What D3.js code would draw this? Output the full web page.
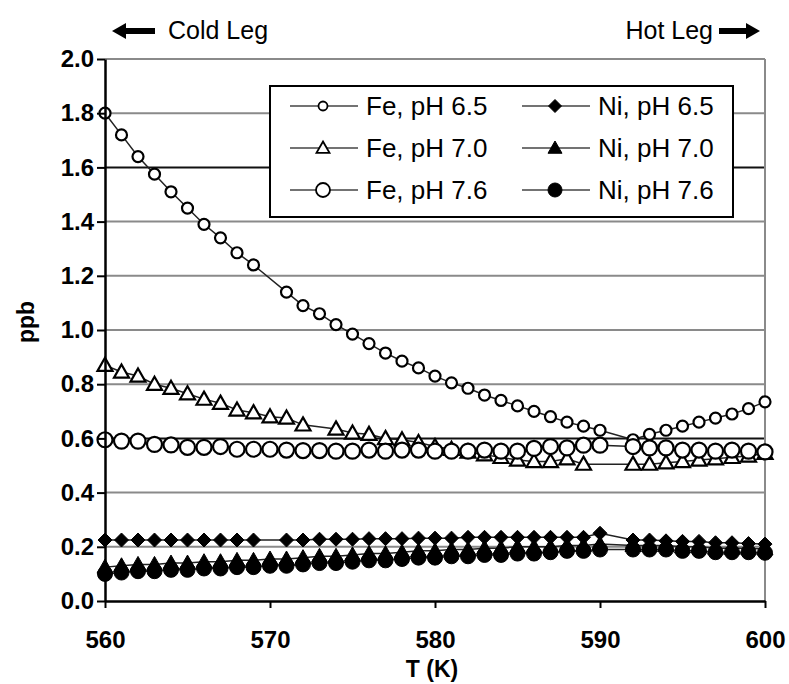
<!DOCTYPE html>
<html>
<head>
<meta charset="utf-8">
<script src="https://cdn.jsdelivr.net/npm/d3@7"></script>
<style>
  body { margin: 0; background: #fff; }
  text { font-family: "Liberation Sans", Arial, sans-serif; }
</style>
</head>
<body>
<div id="chart"></div>
<script>
// temperatures (K)
const temps = [560, 561, 562, 563, 564, 565, 566, 567, 568, 569, 570,
  571, 572, 573, 574, 575, 576, 577, 578, 579, 580,
  581, 582, 583, 584, 585, 586, 587, 588, 589, 590,
  591, 592, 593, 594, 595, 596, 597, 598, 599, 600];

// concentrations (ppb), null = no point
const fePH65 = [1.80, 1.72, 1.64, 1.575, 1.51, 1.45, 1.39, 1.34, 1.285, 1.24, null,
  1.14, 1.09, 1.06, 1.02, 0.985, 0.95, 0.915, 0.885, 0.86, 0.83,
  0.805, 0.785, 0.76, 0.74, 0.72, 0.70, 0.68, 0.66, 0.645, 0.63,
  null, 0.595, 0.615, 0.63, 0.645, 0.66, 0.675, 0.69, 0.71, 0.735];
const fePH70 = [0.87, 0.845, 0.83, 0.80, 0.785, 0.765, 0.745, 0.73, 0.705, 0.695, 0.68,
  0.675, 0.65, null, 0.635, 0.62, 0.615, 0.60, 0.595, 0.585, 0.57,
  0.56, 0.55, 0.54, 0.53, 0.52, 0.515, 0.515, 0.525, 0.505, null,
  null, 0.505, 0.505, 0.51, 0.515, 0.52, 0.525, 0.53, 0.535, 0.545];
const fePH76 = [0.595, 0.59, 0.59, 0.578, 0.576, 0.567, 0.567, 0.57, 0.56, 0.56, 0.56,
  0.557, 0.555, 0.555, 0.553, 0.553, 0.557, 0.553, 0.557, 0.557, 0.553,
  0.553, 0.553, 0.557, 0.553, 0.553, 0.563, 0.57, 0.565, 0.575, 0.575,
  null, 0.57, 0.565, 0.565, 0.557, 0.557, 0.553, 0.557, 0.553, 0.55];
const niPH65 = [0.225, 0.225, 0.225, 0.225, 0.225, 0.225, 0.225, 0.225, 0.225, 0.225, null,
  0.225, 0.225, 0.228, 0.228, 0.228, 0.23, 0.23, 0.23, 0.232, 0.232,
  0.232, 0.235, 0.235, 0.235, 0.235, 0.235, 0.235, 0.235, 0.235, 0.25,
  null, 0.225, 0.225, 0.222, 0.22, 0.22, 0.215, 0.215, 0.212, 0.21];
const niPH70 = [0.125, 0.13, 0.135, 0.135, 0.14, 0.14, 0.145, 0.145, 0.15, 0.15, 0.155,
  0.155, 0.16, 0.165, 0.165, 0.17, 0.175, 0.175, 0.18, 0.185, 0.185,
  0.19, 0.19, 0.195, 0.195, 0.2, 0.2, 0.2, 0.205, 0.205, 0.21,
  null, 0.205, 0.205, 0.205, 0.2, 0.2, 0.195, 0.195, 0.195, 0.192];
const niPH76 = [0.10, 0.105, 0.11, 0.11, 0.115, 0.115, 0.12, 0.12, 0.125, 0.125, 0.13,
  0.13, 0.135, 0.14, 0.14, 0.145, 0.15, 0.15, 0.155, 0.16, 0.16,
  0.165, 0.165, 0.17, 0.17, 0.175, 0.175, 0.18, 0.185, 0.185, 0.19,
  null, 0.19, 0.19, 0.19, 0.185, 0.185, 0.18, 0.18, 0.18, 0.178];

const seriesNames = ["Fe, pH 6.5", "Fe, pH 7.0", "Fe, pH 7.6", "Ni, pH 6.5", "Ni, pH 7.0", "Ni, pH 7.6"];
const xTicks = [560, 570, 580, 590, 600];
const yTicks = [0, 0.2, 0.4, 0.6, 0.8, 1.0, 1.2, 1.4, 1.6, 1.8, 2.0];

const series = [
  { name: seriesNames[0], values: fePH65, shape: "circle", r: 5.5, fill: "#fff", legendR: 4.5 },
  { name: seriesNames[1], values: fePH70, shape: "triangle", r: 7.5, fill: "#fff", legendR: 6.5 },
  { name: seriesNames[2], values: fePH76, shape: "circle", r: 7.5, fill: "#fff", legendR: 7 },
  { name: seriesNames[3], values: niPH65, shape: "diamond", r: 7, fill: "#000", legendR: 6.5 },
  { name: seriesNames[4], values: niPH70, shape: "triangle", r: 8, fill: "#000", legendR: 7 },
  { name: seriesNames[5], values: niPH76, shape: "circle", r: 7.5, fill: "#000", legendR: 7 }
];

const width = 789;
const height = 684;
const marginTop = 59;
const marginRight = 24;
const marginBottom = 83;
const marginLeft = 105;

const svg = d3.select("#chart")
  .append("svg")
  .attr("width", width)
  .attr("height", height);

const x = d3.scaleLinear()
  .domain([560, 600])
  .range([marginLeft, width - marginRight]);

const y = d3.scaleLinear()
  .domain([0, 2])
  .range([height - marginBottom, marginTop]);

// grid lines and frame
svg.append("g")
  .selectAll("line")
  .data(yTicks.filter(d => d > 0))
  .join("line")
  .attr("x1", marginLeft)
  .attr("x2", width - marginRight)
  .attr("y1", d => y(d))
  .attr("y2", d => y(d))
  .attr("stroke", d => (d === 1.6 || d === 0.6) ? "#111" : "#8a8a8a")
  .attr("stroke-width", 2);

svg.append("line")
  .attr("x1", width - marginRight)
  .attr("x2", width - marginRight)
  .attr("y1", marginTop)
  .attr("y2", height - marginBottom)
  .attr("stroke", "#8a8a8a")
  .attr("stroke-width", 2);

function markerPath(shape, r) {
  if (shape === "circle") {
    return `M${r},0A${r},${r} 0 1,1 ${-r},0A${r},${r} 0 1,1 ${r},0Z`;
  }
  if (shape === "triangle") {
    return `M0,${-r}L${r},${r * 0.75}L${-r},${r * 0.75}Z`;
  }
  return `M0,${-r}L${r},0L0,${r}L${-r},0Z`;
}

const line = d3.line()
  .x(d => x(d.t))
  .y(d => y(d.v));

series.forEach(s => {
  const pts = temps.map((t, i) => ({ t: t, v: s.values[i] })).filter(d => d.v !== null);
  const g = svg.append("g");
  g.append("path")
    .datum(pts)
    .attr("fill", "none")
    .attr("stroke", "#222")
    .attr("stroke-width", 1.5)
    .attr("d", line);
  g.selectAll("path.m")
    .data(pts)
    .join("path")
    .attr("class", "m")
    .attr("transform", d => `translate(${x(d.t)},${y(d.v)})`)
    .attr("d", markerPath(s.shape, s.r))
    .attr("fill", s.fill)
    .attr("stroke", "#000")
    .attr("stroke-width", s.fill === "#fff" ? 2.2 : 1);
});

// axes
svg.append("g")
  .attr("transform", `translate(0,${height - marginBottom})`)
  .call(d3.axisBottom(x).tickValues(xTicks).tickSize(7).tickSizeOuter(0).tickPadding(23).tickFormat(d3.format("d")))
  .call(g => g.select(".domain").attr("stroke", "#000").attr("stroke-width", 2.5))
  .call(g => g.selectAll(".tick line").attr("stroke-width", 2))
  .call(g => g.selectAll("text")
    .attr("fill", "#000")
    .attr("font-size", 24)
    .attr("font-weight", "bold")
    .attr("font-family", "Liberation Sans, Arial, sans-serif"));

svg.append("g")
  .attr("transform", `translate(${marginLeft},0)`)
  .call(d3.axisLeft(y).tickValues(yTicks).tickSize(8).tickSizeOuter(0).tickPadding(3).tickFormat(d3.format(".1f")))
  .call(g => g.select(".domain").attr("stroke", "#000").attr("stroke-width", 2.5))
  .call(g => g.selectAll(".tick line").attr("stroke-width", 2))
  .call(g => g.selectAll("text")
    .attr("fill", "#000")
    .attr("font-size", 24)
    .attr("font-weight", "bold")
    .attr("font-family", "Liberation Sans, Arial, sans-serif"));

// axis titles
svg.append("text")
  .attr("transform", "translate(34,322) rotate(-90)")
  .attr("text-anchor", "middle")
  .attr("font-size", 23)
  .attr("font-weight", "bold")
  .text("ppb");

svg.append("text")
  .attr("x", 432)
  .attr("y", 677)
  .attr("text-anchor", "middle")
  .attr("font-size", 23)
  .attr("font-weight", "bold")
  .text("T (K)");

// cold / hot leg labels
svg.append("path")
  .attr("d", "M112,31L126,23L126,28L155,28L155,34L126,34L126,39Z")
  .attr("fill", "#000");
svg.append("text")
  .attr("x", 168)
  .attr("y", 39)
  .attr("font-size", 25)
  .text("Cold Leg");

svg.append("text")
  .attr("x", 713)
  .attr("y", 39)
  .attr("text-anchor", "end")
  .attr("font-size", 25)
  .text("Hot Leg");
svg.append("path")
  .attr("d", "M760,31L746,23L746,28L719,28L719,34L746,34L746,39Z")
  .attr("fill", "#000");

// legend
const legend = svg.append("g");
legend.append("rect")
  .attr("x", 270)
  .attr("y", 86)
  .attr("width", 463)
  .attr("height", 131)
  .attr("fill", "#fff")
  .attr("stroke", "#000")
  .attr("stroke-width", 2);

const legendCols = [290, 522];
const legendRows = [106, 148, 190];

series.forEach((s, i) => {
  const cx = legendCols[Math.floor(i / 3)];
  const cy = legendRows[i % 3];
  const item = legend.append("g").attr("transform", `translate(${cx},${cy})`);
  item.append("line")
    .attr("x1", 0).attr("x2", 68)
    .attr("y1", 0).attr("y2", 0)
    .attr("stroke", "#444")
    .attr("stroke-width", 1.5);
  item.append("path")
    .attr("transform", "translate(33,0)")
    .attr("d", markerPath(s.shape, s.legendR))
    .attr("fill", s.fill)
    .attr("stroke", "#000")
    .attr("stroke-width", s.fill === "#fff" ? 1.8 : 1);
  item.append("text")
    .attr("x", 76)
    .attr("y", 9)
    .attr("font-size", 26)
    .text(s.name);
});
</script>
</body>
</html>
